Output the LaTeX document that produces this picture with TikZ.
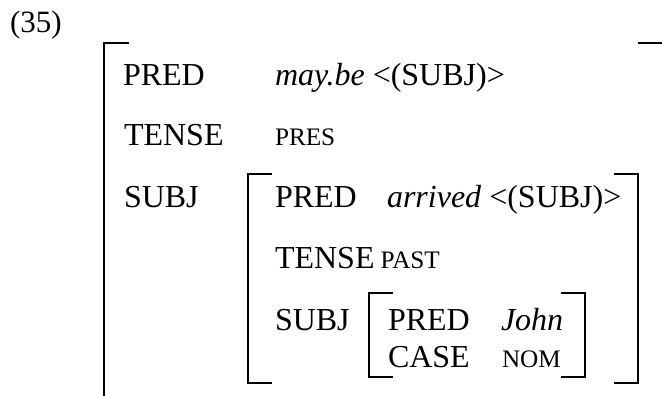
\documentclass[tikz,border=0pt]{standalone}
\usepackage{fontspec}
\setmainfont{Liberation Serif}
\newcommand\featsc[1]{{\fontsize{25.2}{28}\selectfont #1}}
\begin{document}
\begin{tikzpicture}[x=1pt,y=-1pt,
  every node/.style={inner sep=0pt,outer sep=0pt,anchor=base west,
    font=\fontsize{32}{36}\selectfont},
  brk/.style={line width=1.8pt,line cap=butt}]
\useasboundingbox (0,0) rectangle (662,396);

% example number
\node[font=\fontsize{31}{36}\selectfont] (num) at (10,33) {(35)};

% outer f-structure
\draw[brk] (129,43) -- (104,43) -- (104,396);
\draw[brk] (638,43) -- (662,43);
\node (p1)  at (123,85)  {PRED};
\node (v1)  at (275,85)  {\textit{may.be} <(SUBJ)>};
\node (t1)  at (124,146) {TENSE};
\node (tv1) at (275,146) {\featsc{PRES}};
\node (s1)  at (124,207) {SUBJ};

% SUBJ f-structure
\draw[brk] (272,174) -- (248,174) -- (248,383) -- (272,383);
\draw[brk] (614,174) -- (638,174) -- (638,383) -- (614,383);
\node (p2)  at (275,207) {PRED};
\node (v2)  at (387,207) {\textit{arrived} <(SUBJ)>};
\node (t2)  at (275,268) {TENSE\hspace{6pt}\featsc{PAST}};
\node (s2)  at (275,330) {SUBJ};

% innermost SUBJ f-structure
\draw[brk] (393,293) -- (369,293) -- (369,377) -- (393,377);
\draw[brk] (561,293) -- (585,293) -- (585,377) -- (561,377);
\node (p3)  at (388,330) {PRED};
\node (v3)  at (501,330) {\textit{John}};
\node (c3)  at (388,367) {CASE};
\node (cv3) at (502,367) {\featsc{NOM}};
\end{tikzpicture}
\end{document}
